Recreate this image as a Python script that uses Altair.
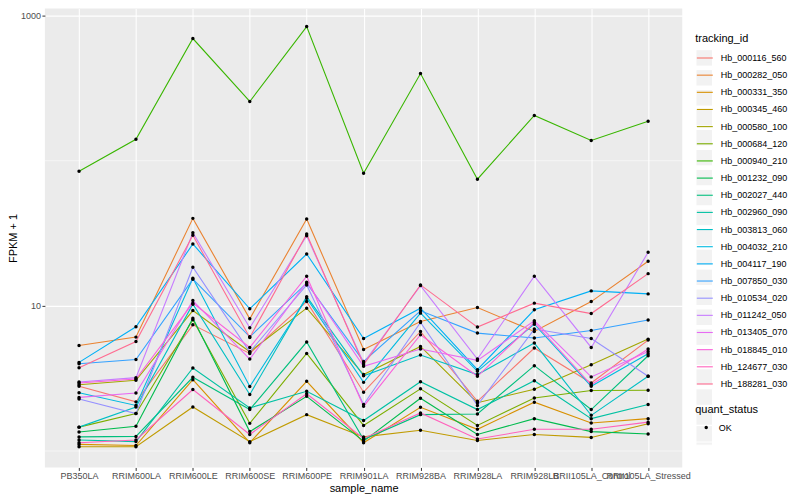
import altair as alt
import pandas as pd

samples = ["PB350LA", "RRIM600LA", "RRIM600LE", "RRIM600SE", "RRIM600PE",
           "RRIM901LA", "RRIM928BA", "RRIM928LA", "RRIM928LB",
           "RRII105LA_Control", "RRII105LA_Stressed"]

tracking_ids = ["Hb_000116_560", "Hb_000282_050", "Hb_000331_350", "Hb_000345_460",
                "Hb_000580_100", "Hb_000684_120", "Hb_000940_210", "Hb_001232_090",
                "Hb_002027_440", "Hb_002960_090", "Hb_003813_060", "Hb_004032_210",
                "Hb_004117_190", "Hb_007850_030", "Hb_010534_020", "Hb_011242_050",
                "Hb_013405_070", "Hb_018845_010", "Hb_124677_030", "Hb_188281_030"]

colors = ["#F8766D", "#EA8331", "#D89000", "#C09B00", "#A3A500", "#7CAE00", "#39B600",
          "#00BB4E", "#00BF7D", "#00C1A3", "#00BFC4", "#00BAE0", "#00B0F6", "#35A2FF",
          "#9590FF", "#C77CFF", "#E76BF3", "#FA62DB", "#FF62BC", "#FF6C91"]

# FPKM + 1 per sample (order of `samples`)
hb_000116_560 = [2.79, 2.18, 7.40, 4.70, 10.70, 2.54, 6.66, 2.20, 5.12, 2.94, 5.81]
hb_000282_050 = [5.33, 6.09, 40.07, 8.14, 39.62, 5.01, 7.80, 9.73, 6.66, 10.70, 20.29]
hb_000331_350 = [1.11, 1.09, 3.10, 1.14, 3.02, 1.14, 2.00, 1.41, 2.17, 1.56, 1.67]
hb_000345_460 = [1.07, 1.07, 2.01, 1.16, 1.78, 1.25, 1.39, 1.18, 1.30, 1.24, 1.54]
hb_000580_100 = [2.86, 3.07, 9.28, 4.83, 9.64, 3.36, 5.25, 2.15, 2.66, 3.93, 5.90]
hb_000684_120 = [1.46, 1.81, 8.01, 1.55, 4.70, 1.50, 2.68, 1.50, 2.32, 2.61, 2.62]
hb_000940_210 = [84.7, 140.6, 695.0, 256.0, 840.0, 82.0, 399.0, 74.6, 205.0, 138.0, 187.0]
hb_001232_090 = [1.35, 1.48, 8.23, 1.36, 2.38, 1.17, 2.31, 1.30, 1.67, 1.36, 1.31]
hb_002027_440 = [1.25, 1.26, 3.22, 1.93, 5.63, 1.20, 1.78, 1.80, 3.87, 1.93, 4.53]
hb_002960_090 = [1.19, 1.16, 3.73, 1.98, 2.58, 1.62, 3.00, 1.93, 3.05, 1.67, 2.09]
hb_003813_060 = [1.46, 2.01, 10.27, 2.45, 11.58, 3.30, 4.58, 3.36, 5.54, 1.76, 3.27]
hb_004032_210 = [2.52, 2.06, 15.50, 2.78, 11.29, 2.97, 8.91, 3.54, 7.48, 2.79, 4.68]
hb_004117_190 = [4.08, 7.17, 26.68, 9.54, 22.77, 5.96, 9.64, 3.63, 9.39, 12.68, 12.09]
hb_007850_030 = [3.99, 4.27, 15.26, 6.12, 14.32, 4.14, 9.24, 6.49, 6.00, 6.77, 7.98]
hb_010534_020 = [2.28, 1.81, 18.45, 4.81, 13.94, 2.09, 7.68, 2.06, 6.92, 5.96, 3.27]
hb_011242_050 = [2.99, 3.20, 31.90, 7.06, 30.42, 4.04, 13.79, 4.30, 16.00, 5.17, 23.39]
hb_013405_070 = [2.34, 2.51, 10.87, 4.30, 14.55, 3.83, 5.04, 4.21, 7.89, 3.24, 4.85]
hb_018845_010 = [2.94, 3.13, 10.44, 5.17, 16.00, 2.03, 6.32, 3.27, 7.68, 2.86, 5.04]
hb_124677_030 = [1.14, 1.19, 2.65, 1.30, 2.48, 1.22, 1.83, 1.21, 1.41, 1.41, 1.58]
hb_188281_030 = [3.75, 5.68, 30.61, 6.06, 31.24, 3.93, 13.94, 7.14, 10.44, 8.85, 16.67]

series = [hb_000116_560, hb_000282_050, hb_000331_350, hb_000345_460, hb_000580_100,
          hb_000684_120, hb_000940_210, hb_001232_090, hb_002027_440, hb_002960_090,
          hb_003813_060, hb_004032_210, hb_004117_190, hb_007850_030, hb_010534_020,
          hb_011242_050, hb_013405_070, hb_018845_010, hb_124677_030, hb_188281_030]

quant_status = ["OK"]
minor_breaks = [1, 100]
major_breaks = [10, 1000]

rows = []
for tid, vals in zip(tracking_ids, series):
    for s, v in zip(samples, vals):
        rows.append({"tracking_id": tid, "sample_name": s, "fpkm1": v,
                     "quant_status": quant_status[0]})
df = pd.DataFrame(rows)
minor_df = pd.DataFrame({"fpkm1": minor_breaks})

# legend key backgrounds (grey boxes behind each key, as in ggplot)
key_ids = ["key_" + t for t in tracking_ids]
key_df = pd.DataFrame({"key": key_ids})
ok_key_ids = ["key_" + q for q in quant_status]
ok_key_df = pd.DataFrame({"okkey": ok_key_ids})

FONT = "Liberation Sans"
KEY_FILL = "#F2F2F2"

x_enc = alt.X("sample_name:N", sort=samples,
              scale=alt.Scale(type="point", padding=0.6),
              axis=alt.Axis(title="sample_name", labelAngle=0, labelOverlap=False,
                            labelBound=False, labelFlush=False))
y_scale = alt.Scale(type="log", domain=[0.770, 1117], nice=False)
y_enc = alt.Y("fpkm1:Q", scale=y_scale,
              axis=alt.Axis(title="FPKM + 1", values=major_breaks, format="d"))

keys = alt.Chart(key_df).mark_square(opacity=0, size=1).encode(
    fill=alt.Fill("key:N",
                  scale=alt.Scale(domain=key_ids, range=[KEY_FILL] * len(key_ids)),
                  legend=alt.Legend(title=None, orient="none",
                                    legendX=652, legendY=40.4,
                                    symbolType="square", symbolSize=272,
                                    symbolOpacity=1, symbolStrokeColor="white",
                                    symbolStrokeWidth=1, rowPadding=-4.4,
                                    labelExpr="''", labelFontSize=9))
)

ok_key = alt.Chart(ok_key_df).mark_square(opacity=0, size=1).encode(
    color=alt.Color("okkey:N",
                    scale=alt.Scale(domain=ok_key_ids, range=[KEY_FILL]),
                    legend=alt.Legend(title=None, orient="none",
                                      legendX=652, legendY=417.3,
                                      symbolType="square", symbolSize=272,
                                      symbolOpacity=1, symbolStrokeColor="white",
                                      symbolFillColor=KEY_FILL,
                                      symbolStrokeWidth=1,
                                      labelExpr="''", labelFontSize=9))
)

minor = alt.Chart(minor_df).mark_rule(color="white", strokeWidth=0.55).encode(
    y=alt.Y("fpkm1:Q", scale=y_scale)
)

lines = alt.Chart(df).mark_line(strokeWidth=1.1).encode(
    x=x_enc,
    y=y_enc,
    stroke=alt.Stroke("tracking_id:N",
                      scale=alt.Scale(domain=tracking_ids, range=colors),
                      legend=alt.Legend(title="tracking_id", orient="none",
                                        legendX=652, legendY=24,
                                        symbolType="stroke", symbolSize=256,
                                        symbolStrokeWidth=1.1, rowPadding=3.2,
                                        symbolOffset=0.6,
                                        labelOffset=7, titlePadding=5.5,
                                        labelFontSize=9, titleFontSize=11,
                                        labelLimit=200)),
    detail="tracking_id:N",
)

points = alt.Chart(df).mark_point(filled=True, size=12, color="black", opacity=1).encode(
    x=x_enc,
    y=y_enc,
    shape=alt.Shape("quant_status:N", scale=alt.Scale(range=["circle"]),
                    legend=alt.Legend(title="quant_status", orient="none",
                                      legendX=652, legendY=396.5,
                                      symbolSize=12, symbolOffset=6.5,
                                      symbolFillColor="black", symbolStrokeColor="black",
                                      labelOffset=8, titlePadding=8,
                                      labelFontSize=9, titleFontSize=11)),
)

chart = alt.layer(keys, ok_key, minor, lines, points).properties(
    width=639, height=460,
    autosize=alt.AutoSizeParams(type="none"),
    padding={"left": 37, "top": 0, "right": 110, "bottom": 30},
    background="white",
).configure_view(
    fill="#EBEBEB", stroke=None
).configure_axis(
    domain=False, grid=True, gridColor="white", gridWidth=1.07,
    tickColor="#333333", tickSize=3, tickWidth=1,
    labelFont=FONT, labelFontSize=9, labelColor="#4D4D4D", labelPadding=1.5,
    titleFont=FONT, titleFontSize=11, titleColor="black", titleFontWeight="normal",
    titlePadding=2,
).configure_legend(
    labelFont=FONT, titleFont=FONT, titleFontWeight="normal", titleColor="black",
    labelColor="black",
)

chart.save("out.html", embed_options={"renderer": "svg", "actions": False})
